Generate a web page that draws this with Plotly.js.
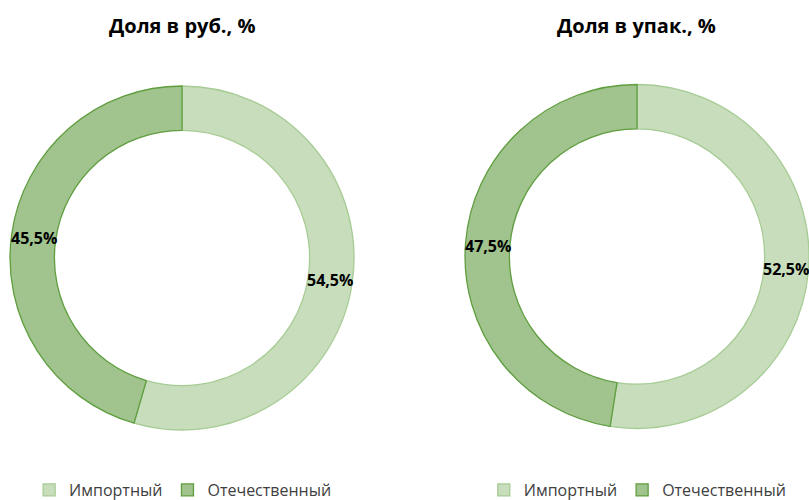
<!DOCTYPE html>
<html>
<head>
<meta charset="utf-8">
<script src="https://cdn.plot.ly/plotly-3.0.1.min.js"></script>
<style>html,body{margin:0;padding:0;background:#fff;}#chart{width:809px;height:500px;}</style>
</head>
<body>
<div id="chart"></div>
<script>
const categories = ["Импортный", "Отечественный"];
const shareRub = [54.5, 45.5];
const sharePack = [52.5, 47.5];
const titles = ["Доля в руб., %", "Доля в упак., %"];

const W = 809, H = 500;
const HOLE = 0.742;
const fillColors = ["#c7ddbc", "#a1c38d"];
const lineColors = ["#a6cc94", "#5f9e3f"];
const FONT = "Open Sans, Noto Sans, sans-serif";

const domains = [
  { x: [0.0124, 0.4376], y: [0.140, 0.828] },
  { x: [0.5748, 1.0], y: [0.143, 0.831] }
];

function donut(values, domain, legendId, suffix) {
  return {
    type: "pie",
    labels: categories.map(c => c + suffix),
    values: values,
    hole: HOLE,
    sort: false,
    direction: "clockwise",
    rotation: 0,
    domain: domain,
    legend: legendId,
    showlegend: true,
    marker: { colors: fillColors, line: { color: lineColors, width: 1.3 } },
    textinfo: "none",
    hoverinfo: "label+percent"
  };
}

// percentage labels placed at the middle of each ring slice, derived from the data
function sliceLabels(values, domain) {
  const total = values.reduce((a, b) => a + b, 0);
  const cx = (domain.x[0] + domain.x[1]) / 2;
  const cy = (domain.y[0] + domain.y[1]) / 2;
  const rPx = Math.min((domain.x[1] - domain.x[0]) * W, (domain.y[1] - domain.y[0]) * H) / 2;
  const rMid = rPx * (1 + HOLE) / 2;
  let cum = 0;
  return values.map(v => {
    const frac = (cum + v / 2) / total;
    cum += v;
    const th = 2 * Math.PI * frac;
    return {
      text: "<b>" + (v / total * 100).toFixed(1).replace(".", ",") + "%</b>",
      x: cx + rMid * Math.sin(th) / W,
      y: cy + rMid * Math.cos(th) / H,
      xref: "paper", yref: "paper", xanchor: "center", yanchor: "middle",
      yshift: -1,
      showarrow: false,
      font: { family: FONT, size: 16, color: "#000000" }
    };
  });
}

const data = [
  donut(shareRub, domains[0], "legend", ""),
  donut(sharePack, domains[1], "legend2", "\u200B")
];

const legendBase = {
  orientation: "h",
  yanchor: "middle",
  xanchor: "left",
  y: 0.02,
  font: { family: FONT, size: 16, color: "#404040" },
  itemwidth: 30,
  tracegroupgap: 0,
  bgcolor: "rgba(0,0,0,0)"
};

const titleAnn = (t, x) => ({
  text: "<b>" + t + "</b>", x: x, y: 0.95, xref: "paper", yref: "paper",
  xanchor: "center", yanchor: "middle", showarrow: false,
  font: { family: FONT, size: 20, color: "#000000" }
});

const layout = {
  width: W,
  height: H,
  margin: { l: 0, r: 0, t: 0, b: 0, autoexpand: false },
  paper_bgcolor: "#ffffff",
  legend: Object.assign({}, legendBase, { x: 0.036 }),
  legend2: Object.assign({}, legendBase, { x: 0.598 }),
  annotations: [
    titleAnn(titles[0], 0.225),
    titleAnn(titles[1], 0.787),
    ...sliceLabels(shareRub, domains[0]),
    ...sliceLabels(sharePack, domains[1])
  ]
};

Plotly.newPlot("chart", data, layout, { displayModeBar: false, staticPlot: true });
</script>
</body>
</html>
